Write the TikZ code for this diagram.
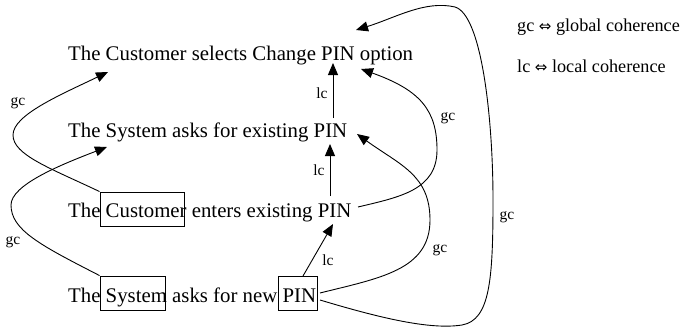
\documentclass[tikz,border=0pt]{standalone}
\usepackage{fontspec}
\setmainfont{Liberation Serif}
\newfontfamily\symfont{DejaVu Sans}
\usetikzlibrary{arrows.meta}
\begin{document}
\begin{tikzpicture}[x=1pt,y=-1pt,
  line/.style={line width=0.9pt},
  arr/.style={line, -{Triangle[length=12pt,width=10pt]}},
  txt/.style={anchor=base west, inner sep=0pt, font=\fontsize{20.8}{24}\selectfont},
  lab/.style={inner sep=0pt, font=\fontsize{15.5}{18}\selectfont},
  leg/.style={anchor=base west, inner sep=0pt, font=\fontsize{18.2}{21}\selectfont},
  wbox/.style={draw, line width=0.9pt, inner sep=0pt}]
\useasboundingbox (0,0) rectangle (690,329);
% text lines
\node[txt] (t1) at (68,60) {The Customer selects Change PIN option};
\node[txt] (t2) at (68,137) {The System asks for existing PIN};
\node[txt] (t3) at (68,217) {The Customer enters existing PIN};
\node[txt] (t4) at (68,302) {The System asks for new PIN};
% boxes
\node[wbox, minimum width=84pt, minimum height=34pt] (bC) at (142,209) {};
\node[wbox, minimum width=65pt, minimum height=34pt] (bS) at (132.5,293) {};
\node[wbox, minimum width=39pt, minimum height=34pt] (bP) at (297.5,293) {};
% legend
\node[leg] (g1) at (517,32) {gc {\symfont\fontsize{15}{16}\selectfont ⇔} global coherence};
\node[leg] (g2) at (517,73) {lc {\symfont\fontsize{15}{16}\selectfont ⇔} local coherence};
% anchor points
\coordinate (a1) at (333,63);
\coordinate (s2) at (333,118);
\coordinate (a2) at (330,144);
\coordinate (s3) at (330,196);
\coordinate (a3) at (333,224);
\coordinate (s4) at (303,276);
\coordinate (sA) at (358,207);
\coordinate (sB) at (320,293);
\coordinate (sC) at (320,300);
\coordinate (eA) at (361,69);
\coordinate (eB) at (357,134);
\coordinate (eC) at (356,30);
\coordinate (eL1) at (108,72);
\coordinate (eL2) at (107,147);
% local coherence
\draw[arr] (s2) -- (a1);
\draw[arr] (s3) -- (a2);
\draw[arr] (s4) -- (a3);
\node[lab] at (322,93) {lc};
\node[lab] at (319,170) {lc};
\node[lab] at (328,260) {lc};
% global coherence left
\draw[arr] (bC.north west) .. controls (50,168) and (13,155) .. (13,135)
  .. controls (13,115) and (60,95) .. (eL1);
\draw[arr] (bS.north west) .. controls (40,245) and (11,230) .. (11,205)
  .. controls (11,185) and (60,165) .. (eL2);
\node[lab] at (18,103) {gc};
\node[lab] at (13,242) {gc};
% global coherence right
\draw[arr] (sA) .. controls (400,197) and (437,190) .. (437,150)
  .. controls (437,110) and (420,90) .. (eA);
\draw[arr] (sB) .. controls (380,278) and (430,270) .. (430,220)
  .. controls (430,175) and (400,165) .. (eB);
\draw[arr] (sC) .. controls (380,318) and (430,330) .. (462,325)
  .. controls (490,320) and (493,280) .. (493,200)
  .. controls (493,120) and (482,15) .. (455,7)
  .. controls (425,0) and (395,18) .. (eC);
\node[lab] at (448,118) {gc};
\node[lab] at (440,250) {gc};
\node[lab] at (507,217) {gc};
\end{tikzpicture}
\end{document}
